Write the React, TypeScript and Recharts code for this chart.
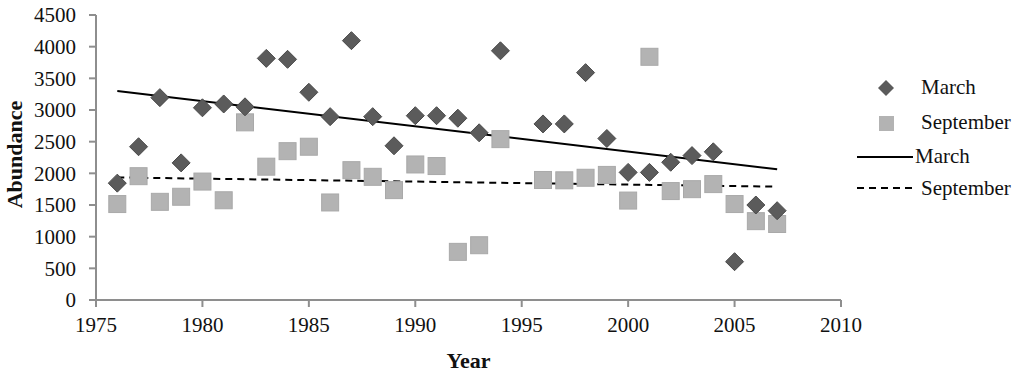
import React from 'react'
import { ScatterChart, Scatter, XAxis, YAxis } from 'recharts'

document.body.style.margin = '0'

const years = [
  1976, 1977, 1978, 1979, 1980, 1981, 1982, 1983, 1984, 1985, 1986, 1987, 1988, 1989, 1990, 1991, 1992, 1993, 1994,
  1996, 1997, 1998, 1999, 2000, 2001, 2002, 2003, 2004, 2005, 2006, 2007,
]
const marchValues = [
  1845, 2420, 3195, 2165, 3035, 3095, 3050, 3815, 3800, 3280, 2895, 4095, 2895, 2435, 2910, 2910, 2870, 2640, 3935,
  2780, 2780, 3590, 2550, 2015, 2015, 2175, 2280, 2340, 605, 1500, 1410,
]
const septemberValues = [
  1515, 1955, 1550, 1630, 1870, 1575, 2805, 2105, 2350, 2420, 1540, 2050, 1945, 1735, 2140, 2115, 760, 865, 2540,
  1895, 1890, 1930, 1975, 1570, 3840, 1720, 1750, 1830, 1515, 1245, 1200,
]
// trend line end points
const trendYears = [1976, 2007]
const marchTrend = [3300, 2065]
const septemberTrend = [1935, 1790]

const xTicks = [1975, 1980, 1985, 1990, 1995, 2000, 2005, 2010]
const yTicks = [0, 500, 1000, 1500, 2000, 2500, 3000, 3500, 4000, 4500]

const marchData = years.map((year, i) => ({ year, value: marchValues[i] }))
const septemberData = years.map((year, i) => ({ year, value: septemberValues[i] }))
const marchTrendData = trendYears.map((year, i) => ({ year, value: marchTrend[i] }))
const septemberTrendData = trendYears.map((year, i) => ({ year, value: septemberTrend[i] }))

const FONT = '"Liberation Serif", "Times New Roman", serif'
const AXIS = '#8e8e8e'
const DIAMOND = '#5b5b5b'
const SQUARE = '#b3b3b3'

function Diamond({ cx, cy }: any) {
  const r = 9
  return (
    <polygon
      points={`${cx},${cy - r} ${cx + r},${cy} ${cx},${cy + r} ${cx - r},${cy}`}
      fill={DIAMOND}
      stroke="#4a4a4a"
      strokeWidth={1}
    />
  )
}

function Square({ cx, cy }: any) {
  const s = 17
  return <rect x={cx - s / 2} y={cy - s / 2} width={s} height={s} fill={SQUARE} stroke="#a9a9a9" strokeWidth={1} />
}

function NoDot() {
  return <g />
}

function LegendBox() {
  const text = { fontFamily: FONT, fontSize: 21, color: '#111', lineHeight: '21px' }
  const row = { display: 'flex', alignItems: 'center', height: 35 }
  return (
    <div style={{ position: 'absolute', left: 857, top: 70, width: 170 }}>
      <div style={row}>
        <svg width={64} height={20}>
          <polygon points="29,2 37,10 29,18 21,10" fill={DIAMOND} />
        </svg>
        <span style={text}>March</span>
      </div>
      <div style={row}>
        <svg width={64} height={20}>
          <rect x={22} y={3} width={15} height={15} fill={SQUARE} />
        </svg>
        <span style={text}>September</span>
      </div>
      <div style={{ ...row, height: 33 }}>
        <svg width={58} height={20}>
          <line x1={0} y1={10} x2={56} y2={10} stroke="#000" strokeWidth={2} />
        </svg>
        <span style={text}>March</span>
      </div>
      <div style={{ ...row, height: 30 }}>
        <svg width={64} height={20}>
          <line x1={0} y1={10} x2={56} y2={10} stroke="#000" strokeWidth={2} strokeDasharray="7 5" />
        </svg>
        <span style={text}>September</span>
      </div>
    </div>
  )
}

export default function App() {
  const tick = { fontFamily: FONT, fontSize: 21, fill: '#111' }
  return (
    <div style={{ position: 'relative', width: 1024, height: 375 }}>
      <ScatterChart width={1024} height={375} margin={{ top: 15, right: 183, bottom: 0, left: 0 }}>
        <XAxis
          type="number"
          dataKey="year"
          domain={[1975, 2010]}
          ticks={xTicks}
          interval={0}
          height={75}
          tick={tick}
          tickSize={7}
          tickMargin={10}
          axisLine={{ stroke: AXIS, strokeWidth: 2 }}
          tickLine={{ stroke: AXIS, strokeWidth: 2 }}
          label={({ viewBox }: any) => (
            <text
              x={viewBox.x + viewBox.width / 2}
              y={viewBox.y + 68}
              textAnchor="middle"
              fontFamily={FONT}
              fontSize={22}
              fontWeight="bold"
              fill="#111"
            >
              Year
            </text>
          )}
        />
        <YAxis
          type="number"
          dataKey="value"
          domain={[0, 4500]}
          ticks={yTicks}
          interval={0}
          width={96}
          tick={tick}
          tickSize={7}
          tickMargin={13}
          axisLine={{ stroke: AXIS, strokeWidth: 2 }}
          tickLine={{ stroke: AXIS, strokeWidth: 2 }}
          label={({ viewBox }: any) => (
            <text
              x={viewBox.x + 22}
              y={viewBox.y + viewBox.height / 2 - 3}
              textAnchor="middle"
              transform={`rotate(-90, ${viewBox.x + 22}, ${viewBox.y + viewBox.height / 2 - 3})`}
              fontFamily={FONT}
              fontSize={22}
              fontWeight="bold"
              fill="#111"
            >
              Abundance
            </text>
          )}
        />
        <Scatter
          name="March trend"
          data={marchTrendData}
          line={{ stroke: '#000', strokeWidth: 2 }}
          shape={<NoDot />}
          isAnimationActive={false}
        />
        <Scatter
          name="September trend"
          data={septemberTrendData}
          line={{ stroke: '#000', strokeWidth: 2, strokeDasharray: '7 5' }}
          shape={<NoDot />}
          isAnimationActive={false}
        />
        <Scatter name="September" data={septemberData} shape={<Square />} isAnimationActive={false} />
        <Scatter name="March" data={marchData} shape={<Diamond />} isAnimationActive={false} />
      </ScatterChart>
      <LegendBox />
    </div>
  )
}
